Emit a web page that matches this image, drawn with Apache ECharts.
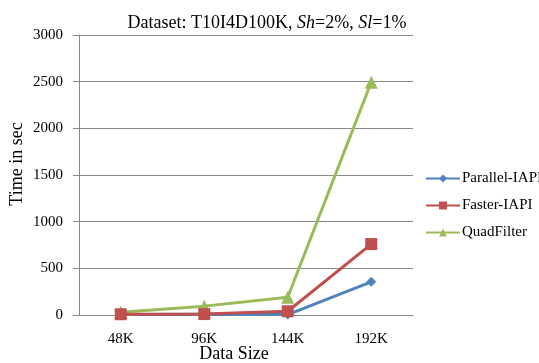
<!DOCTYPE html>
<html><head><meta charset="utf-8">
<script src="https://cdn.jsdelivr.net/npm/echarts@6/dist/echarts.min.js"></script>
<style>html,body{margin:0;padding:0;background:#fff}#c{width:539px;height:363px}</style>
</head><body><div id="c"></div>
<script>
var categories = ['48K', '96K', '144K', '192K'];
var parallelIAPI = [5, 8, 5, 355];
var fasterIAPI = [8, 10, 40, 760];
var quadFilter = [30, 95, 190, 2495];
var yTicks = [0, 500, 1000, 1500, 2000, 2500, 3000];

var font = '"Liberation Serif", "Times New Roman", serif';
var chart = echarts.init(document.getElementById('c'));
chart.setOption({
  animation: false,
  title: {
    text: '{n|Dataset: T10I4D100K, }{i|Sh}{n|=2%, }{i|Sl}{n|=1%}',
    left: 262, top: 9, textAlign: 'center',
    textStyle: {
      fontWeight: 'normal',
      rich: {
        n: {fontFamily: font, fontSize: 18, color: '#000', fontWeight: 'normal'},
        i: {fontFamily: font, fontSize: 18, color: '#000', fontStyle: 'italic', fontWeight: 'normal'}
      }
    }
  },
  graphic: [{
    type: 'text', x: 17, y: 164, rotation: Math.PI / 2,
    style: {text: 'Time in sec', fontFamily: font, fontSize: 18, fill: '#000',
      align: 'center', verticalAlign: 'middle'}
  }, {
    type: 'text', x: 234, y: 354,
    style: {text: 'Data Size', fontFamily: font, fontSize: 18, fill: '#000',
      align: 'center', verticalAlign: 'middle'}
  }],
  legend: {
    orient: 'vertical', left: 420, top: 166, itemGap: 12,
    itemWidth: 34, itemHeight: 10,
    textStyle: {fontFamily: font, fontSize: 15, color: '#000', padding: [0, 0, 0, -3]},
    data: ['Parallel-IAPI', 'Faster-IAPI', 'QuadFilter']
  },
  grid: {left: 79, right: 126, top: 35, bottom: 48, containLabel: false, outerBoundsMode: 'none'},
  xAxis: {
    type: 'category', data: categories, boundaryGap: true,
    axisLine: {lineStyle: {color: '#888', width: 1}},
    axisTick: {show: false},
    axisLabel: {fontFamily: font, fontSize: 15, color: '#000', margin: 17}
  },
  yAxis: {
    type: 'value', min: 0, max: 3000, interval: 500,
    axisLine: {show: true, lineStyle: {color: '#888', width: 1}},
    axisTick: {show: true, length: 6, lineStyle: {color: '#888'}},
    splitLine: {lineStyle: {color: '#888', width: 1}},
    axisLabel: {fontFamily: font, fontSize: 15, color: '#000', margin: 16,
      formatter: function (v) { return yTicks.indexOf(v) >= 0 ? String(v) : ''; }}
  },
  series: [
    {name: 'Parallel-IAPI', type: 'line', data: parallelIAPI, symbol: 'diamond', symbolSize: 10,
      itemStyle: {color: '#4f81bd'}, lineStyle: {width: 3, color: '#4f81bd'}, z: 3},
    {name: 'Faster-IAPI', type: 'line', data: fasterIAPI, symbol: 'rect', symbolSize: 12,
      itemStyle: {color: '#c0504d'}, lineStyle: {width: 3, color: '#c0504d'}, z: 4},
    {name: 'QuadFilter', type: 'line', data: quadFilter, symbol: 'triangle', symbolSize: 13,
      itemStyle: {color: '#9bbb59'}, lineStyle: {width: 3, color: '#9bbb59'}, z: 2}
  ]
});
</script></body></html>
